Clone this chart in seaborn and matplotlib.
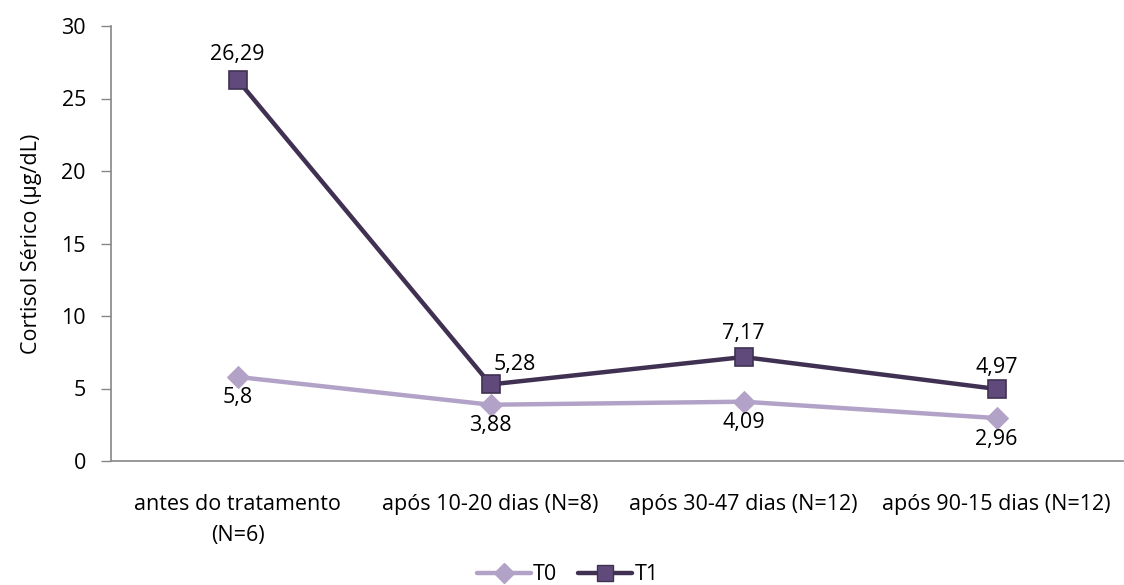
import matplotlib
matplotlib.use("Agg")
import matplotlib.pyplot as plt
import seaborn as sns
import pandas as pd
from matplotlib.lines import Line2D

categories = ["antes do tratamento\n(N=6)", "após 10-20 dias (N=8)",
              "após 30-47 dias (N=12)", "após 90-15 dias (N=12)"]
t0_values = [5.8, 3.88, 4.09, 2.96]
t1_values = [26.29, 5.28, 7.17, 4.97]
series_names = ["T0", "T1"]

sns.set_theme(style="white")
plt.rcParams["font.family"] = ["Open Sans", "DejaVu Sans"]
plt.rcParams["text.color"] = "black"
plt.rcParams["axes.labelcolor"] = "black"
plt.rcParams["xtick.labelcolor"] = "black"
plt.rcParams["ytick.labelcolor"] = "black"

df = pd.DataFrame({
    "pos": list(range(len(categories))) * 2,
    "valor": t0_values + t1_values,
    "serie": [series_names[0]] * len(categories) + [series_names[1]] * len(categories),
})

fig = plt.figure(figsize=(11.24, 5.85), dpi=100)
ax = fig.add_axes([111 / 1124, 1 - 461 / 585, 1012 / 1124, 435 / 585])

colors = {"T0": "#B3A2C7", "T1": "#403152"}
sns.lineplot(data=df, x="pos", y="valor", hue="serie", style="serie",
             palette=colors, markers={"T0": "D", "T1": "s"}, dashes=False,
             linewidth=3.2, ax=ax, legend=False)

# marker styling per series
for line, name in zip(ax.get_lines(), series_names):
    if name == "T0":
        line.set_markersize(11)
        line.set_markerfacecolor("#B3A2C7")
        line.set_markeredgecolor("#B3A2C7")
    else:
        line.set_markersize(13)
        line.set_markerfacecolor("#604A7B")
        line.set_markeredgecolor("#403152")
        line.set_markeredgewidth(1.2)

fmt = lambda v: f"{v:g}".replace(".", ",")
fs = 15.5
# value labels
for i, v in enumerate(t0_values):
    ax.annotate(fmt(v), (i, v), xytext=(0, -21), textcoords="offset pixels",
                ha="center", va="center", fontsize=fs, color="black")
t1_offsets = [(0, 25), (24, 20), (0, 24), (0, 21)]
for i, v in enumerate(t1_values):
    ax.annotate(fmt(v), (i, v), xytext=t1_offsets[i], textcoords="offset pixels",
                ha="center", va="center", fontsize=fs, color="black")

ax.set_xlim(-0.5, len(categories) - 0.5)
ax.set_ylim(0, 30)
ax.set_yticks(range(0, 31, 5))
ax.set_yticklabels([str(t) for t in range(0, 31, 5)], fontsize=fs)
ax.set_xticks([i - 0.5 for i in range(len(categories) + 1)])
ax.set_xticklabels([])
ax.set_xticks(range(len(categories)), minor=True)
ax.set_xticklabels(categories, minor=True, fontsize=fs, linespacing=1.6)
ax.tick_params(axis="x", which="minor", length=0, pad=24, labelcolor="black")
ax.tick_params(axis="x", which="major", length=7, color="#868686", width=1, direction="out")
ax.tick_params(axis="y", length=7, color="#868686", width=1, direction="out", pad=11,
               left=True, labelcolor="black")
ax.set_xlabel("")
ax.set_ylabel("Cortisol Sérico (µg/dL)", fontsize=fs, labelpad=14, color="black")

for s in ["top", "right"]:
    ax.spines[s].set_visible(False)
for s in ["left", "bottom"]:
    ax.spines[s].set_color("#868686")
    ax.spines[s].set_linewidth(1.2)

handles = [
    Line2D([], [], color="#B3A2C7", lw=3.2, marker="D", markersize=10,
           markerfacecolor="#B3A2C7", markeredgecolor="#B3A2C7"),
    Line2D([], [], color="#403152", lw=3.2, marker="s", markersize=12,
           markerfacecolor="#604A7B", markeredgecolor="#403152"),
]
fig.legend(handles, series_names, loc="center", bbox_to_anchor=(0.505, 1 - 575 / 585),
           ncol=2, frameon=False, fontsize=fs, handlelength=2.5, handletextpad=0.1,
           columnspacing=1.0)

fig.savefig("out.png", dpi=100)
